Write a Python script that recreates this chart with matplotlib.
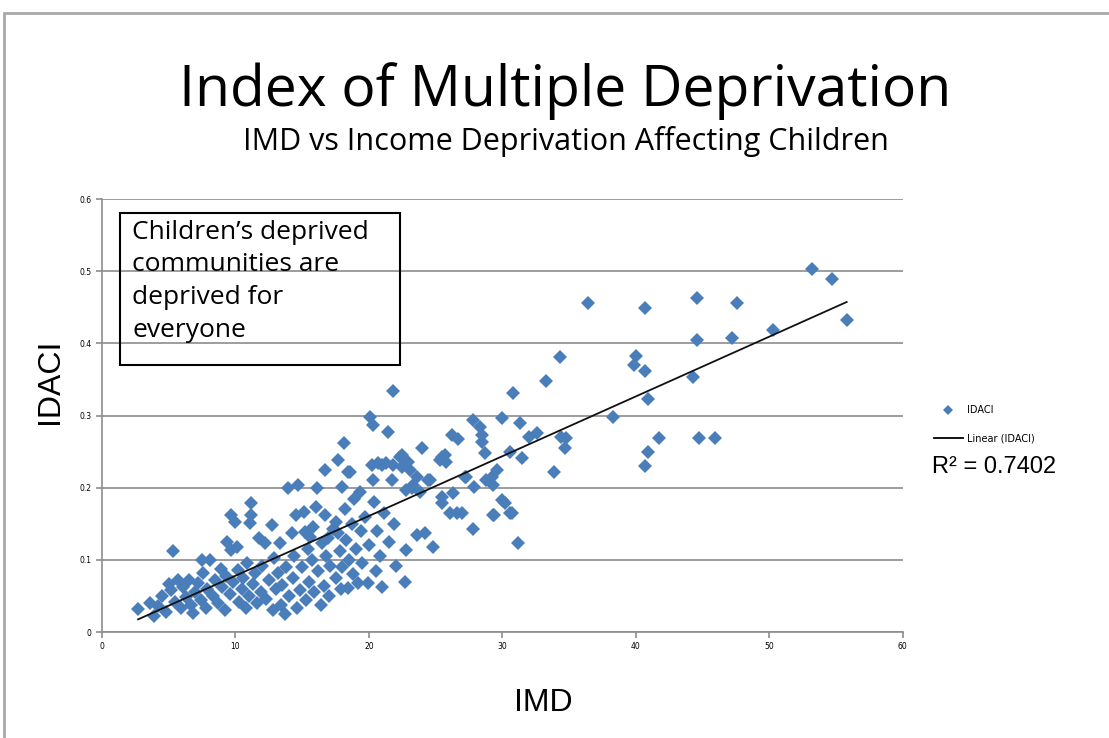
import numpy as np
import matplotlib
matplotlib.use('Agg')
import matplotlib.pyplot as plt
from matplotlib.patches import Rectangle
from matplotlib.lines import Line2D

# IMD score vs IDACI
imd = [
    2.7, 3.6, 3.9, 4.2, 4.5, 4.8, 5.0, 5.3,
    5.2, 5.5, 5.7, 5.9, 6.1, 6.3, 6.5, 6.7, 6.8, 7.0, 7.2, 7.4, 7.6, 7.8, 7.9, 8.1, 7.5,
    8.3, 8.5, 8.7, 8.9, 9.0, 9.2, 9.3, 9.4, 9.6, 9.7, 9.7, 9.8, 10.0, 10.1, 10.2, 10.3,
    10.5, 10.6, 10.8, 10.9, 11.0,
    11.1, 11.2, 11.2, 11.3, 11.5, 11.6, 11.8, 11.9, 12.0, 12.2, 12.3, 12.5, 12.7, 12.8,
    12.9, 13.0, 13.2, 13.3, 13.4, 13.5, 13.7, 13.8, 13.9, 14.0, 14.2, 14.3, 14.4,
    14.5, 14.6, 14.7, 14.8, 15.0, 15.1, 15.2, 15.3, 15.4, 15.5, 15.6, 15.7, 15.8, 15.9,
    16.0, 16.1, 16.2, 16.4, 16.5, 16.6, 16.7, 16.7, 16.8, 16.9, 17.0, 17.1, 17.3, 17.5,
    17.5, 17.7, 17.7, 17.8, 17.9, 18.0, 18.0,
    18.1, 18.2, 18.3, 18.4, 18.4, 18.5, 18.6, 18.7, 18.8, 18.9, 19.0, 19.2, 19.3, 19.4,
    19.5, 19.7, 19.9, 20.0, 20.1, 20.2, 20.3, 20.3, 20.4, 20.5, 20.6, 20.7, 20.8, 21.0,
    21.0, 21.1, 21.3, 21.4, 21.5, 21.7, 21.8, 21.8, 21.9, 22.0,
    22.3, 22.5, 22.5, 22.7, 22.8, 22.8, 22.9, 23.1, 23.2, 23.3, 23.6, 23.6, 23.8, 24.0,
    24.2, 24.4, 24.6, 24.8, 25.3, 25.5, 25.5, 25.5, 25.7, 25.8, 26.1, 26.2, 26.3,
    26.6, 26.7, 27.0, 27.2, 27.3, 27.8, 27.8, 27.9, 28.3, 28.5, 28.5, 28.7, 28.8, 29.2,
    29.3, 29.3, 29.4, 29.6, 30.0, 30.0, 30.2, 30.6, 30.6, 30.7, 30.8, 31.2,
    31.3, 31.5, 32.0, 32.6, 33.3, 33.9, 34.3, 34.4, 34.7, 34.8, 36.4, 38.3, 39.9, 40.0,
    40.7, 40.7, 40.7, 40.9, 40.9, 41.7, 44.3, 44.6, 44.6, 44.7, 45.9, 47.2, 47.6, 50.3,
    53.2, 54.7, 55.8,
]
idaci = [
    0.032, 0.040, 0.022, 0.036, 0.050, 0.028, 0.066, 0.112,
    0.058, 0.042, 0.072, 0.033, 0.062, 0.048, 0.072, 0.038, 0.026, 0.055, 0.068, 0.044,
    0.082, 0.033, 0.060, 0.100, 0.100,
    0.050, 0.072, 0.040, 0.088, 0.062, 0.030, 0.078, 0.125, 0.053, 0.114, 0.162, 0.070,
    0.152, 0.118, 0.086, 0.042, 0.060, 0.075, 0.033, 0.095, 0.050,
    0.151, 0.179, 0.162, 0.066, 0.082, 0.040, 0.130, 0.055, 0.092, 0.123, 0.046, 0.072,
    0.148, 0.030, 0.102, 0.060, 0.082, 0.123, 0.038, 0.065, 0.025, 0.090, 0.200, 0.050,
    0.137, 0.075, 0.106,
    0.162, 0.033, 0.204, 0.058, 0.090, 0.166, 0.139, 0.045, 0.115, 0.070, 0.132, 0.100,
    0.146, 0.055, 0.173, 0.200, 0.084, 0.038, 0.124, 0.064, 0.162, 0.224, 0.106, 0.130,
    0.050, 0.092, 0.143, 0.152, 0.075, 0.137, 0.238, 0.112, 0.060, 0.201, 0.090,
    0.262, 0.170, 0.128, 0.222, 0.061, 0.100, 0.222, 0.150, 0.080, 0.185, 0.115, 0.068,
    0.194, 0.140, 0.095, 0.160, 0.068, 0.120, 0.298, 0.231, 0.287, 0.211, 0.180, 0.085,
    0.140, 0.234, 0.105, 0.062, 0.231, 0.165, 0.234, 0.277, 0.125, 0.211, 0.334, 0.231,
    0.150, 0.092,
    0.242, 0.229, 0.245, 0.069, 0.114, 0.197, 0.236, 0.224, 0.200, 0.204, 0.134, 0.215,
    0.194, 0.255, 0.137, 0.211, 0.211, 0.118, 0.238, 0.242, 0.187, 0.179, 0.245, 0.236,
    0.165, 0.273, 0.193,
    0.165, 0.267, 0.165, 0.215, 0.215, 0.294, 0.143, 0.201, 0.284, 0.273, 0.263, 0.248,
    0.211, 0.215, 0.204, 0.162, 0.162, 0.224, 0.296, 0.183, 0.179, 0.249, 0.165, 0.165,
    0.331, 0.123,
    0.290, 0.241, 0.270, 0.276, 0.348, 0.222, 0.381, 0.270, 0.255, 0.269, 0.456, 0.298,
    0.370, 0.382, 0.449, 0.362, 0.230, 0.323, 0.250, 0.269, 0.353, 0.463, 0.405, 0.269,
    0.269, 0.407, 0.456, 0.418, 0.503, 0.489, 0.432,
]
r2_label = 'R² = 0.7402'

x = np.array(imd)
y = np.array(idaci)

blue = '#4a7ebb'
calibri = ['Open Sans', 'DejaVu Sans']

fig = plt.figure(figsize=(11.09, 7.38), dpi=100)
ax = fig.add_axes([0.092, 0.1436, 0.722, 0.5867])

ax.plot(x, y, 'D', color=blue, markersize=7.5, markeredgewidth=0, zorder=3)

# linear trendline over the data range
slope, icpt = np.polyfit(x, y, 1)
xs = np.array([x.min(), x.max()])
ax.plot(xs, slope * xs + icpt, color='#111111', lw=1.3, zorder=4)

ax.set_xlim(0, 60)
ax.set_ylim(0, 0.6)
ax.set_xticks(np.arange(0, 61, 10))
ax.set_yticks(np.arange(0, 0.61, 0.1))
ax.set_yticklabels(['0', '0.1', '0.2', '0.3', '0.4', '0.5', '0.6'])
ax.yaxis.grid(True, color='#8c8c8c', lw=1.2)
ax.set_axisbelow(True)
for s in ['top', 'right']:
    ax.spines[s].set_visible(False)
for s in ['left', 'bottom']:
    ax.spines[s].set_color('#8c8c8c')
    ax.spines[s].set_linewidth(1.2)
ax.tick_params(colors='#8c8c8c', length=4, width=1.2, labelsize=5.5,
               labelcolor='black')

ax.set_xlabel('IMD', fontsize=23, family='Liberation Sans', va='center')
ax.xaxis.set_label_coords(0.551, -0.164)
ax.set_ylabel('IDACI', fontsize=23, family='Liberation Sans', va='center')
ax.yaxis.set_label_coords(-0.065, 0.58)

# text box
ax.add_patch(Rectangle((0.0225, 0.617), 0.35, 0.351, transform=ax.transAxes,
                       fill=False, edgecolor='black', lw=1.5, zorder=5))
ax.text(0.0375, 0.952, 'Children\u2019s deprived\ncommunities are\ndeprived for\neveryone',
        transform=ax.transAxes, ha='left', va='top', fontsize=19,
        family=calibri, linespacing=1.4, zorder=6)

# legend
handles = [Line2D([], [], ls='none', marker='D', color=blue, markersize=5, markeredgewidth=0),
           Line2D([], [], color='black', lw=1.3)]
ax.legend(handles, ['IDACI', 'Linear (IDACI)'], loc='center left',
          bbox_to_anchor=(1.028, 0.48), frameon=False,
          prop={'family': 'DejaVu Sans', 'size': 7},
          handlelength=3.0, labelspacing=1.9, handletextpad=0.4)
ax.text(1.037, 0.38, r2_label, transform=ax.transAxes, fontsize=17,
        family='Liberation Sans', ha='left', va='center')

fig.text(0.51, 0.877, 'Index of Multiple Deprivation', ha='center', va='center',
         fontsize=41, family=calibri)
fig.text(0.51, 0.808, 'IMD vs Income Deprivation Affecting Children', ha='center',
         va='center', fontsize=22, family=calibri)

# outer frame (cut off at right and bottom)
fig.patches.append(Rectangle((0.0036, -0.05), 1.2, 1.05 - 13 / 738, transform=fig.transFigure,
                             fill=False, edgecolor='#a8a8a8', lw=2.0))

fig.savefig('out.png', dpi=100)
